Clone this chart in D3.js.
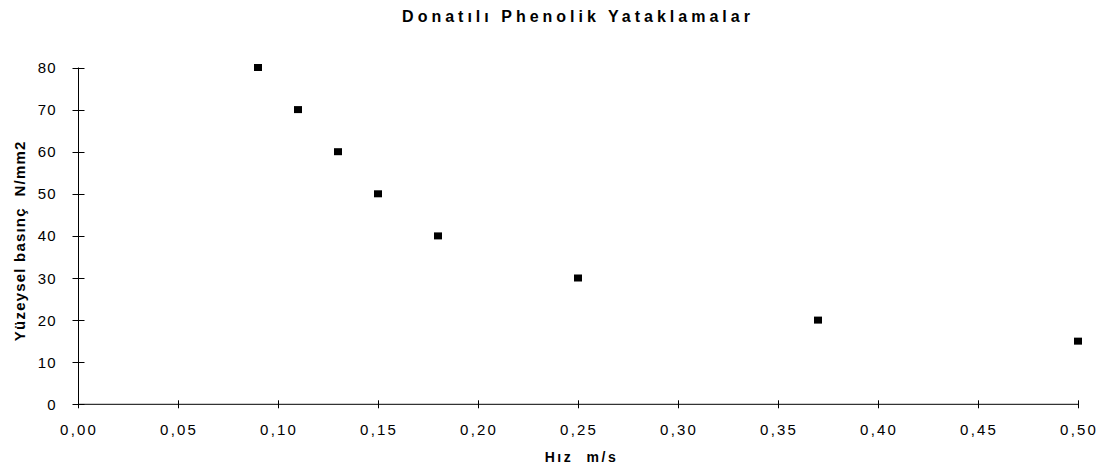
<!DOCTYPE html>
<html>
<head>
<meta charset="utf-8">
<script src="https://cdn.jsdelivr.net/npm/d3@7"></script>
<style>
  body { margin: 0; background: #fff; }
  text { font-family: "Liberation Sans", Arial, sans-serif; fill: #000; white-space: pre; }
</style>
</head>
<body>
<div id="chart"></div>
<script>
var speed = [0.09, 0.11, 0.13, 0.15, 0.18, 0.25, 0.37, 0.50];
var pressure = [80, 70, 60, 50, 40, 30, 20, 15];
var xTicks = [0, 0.05, 0.10, 0.15, 0.20, 0.25, 0.30, 0.35, 0.40, 0.45, 0.50];
var yTicks = [0, 10, 20, 30, 40, 50, 60, 70, 80];

var width = 1104, height = 471;
var svg = d3.select('#chart').append('svg')
  .attr('width', width)
  .attr('height', height);

var x = d3.scaleLinear().domain([0, 0.5]).range([78, 1078]);
var y = d3.scaleLinear().domain([0, 80]).range([404.3, 67.5]);

var fmt = function(d) { return d3.format('.2f')(d).replace('.', ','); };

// x axis
var gx = svg.append('g').attr('transform', 'translate(0,' + y(0) + ')');
gx.append('line').attr('x1', x(0)).attr('x2', x(0.5)).attr('stroke', '#000');
gx.selectAll('line.tick').data(xTicks).enter().append('line')
  .attr('x1', function(d) { return Math.round(x(d)) + 0.5; })
  .attr('x2', function(d) { return Math.round(x(d)) + 0.5; })
  .attr('y1', -4).attr('y2', 4).attr('stroke', '#000');
gx.selectAll('text').data(xTicks).enter().append('text')
  .attr('x', function(d) { return x(d) + 1.1; })
  .attr('y', 30.5)
  .attr('text-anchor', 'middle')
  .style('font-size', '15px')
  .style('letter-spacing', '2.2px')
  .text(fmt);

// y axis
var gy = svg.append('g').attr('transform', 'translate(' + (x(0) + 0.5) + ',0)');
gy.append('line').attr('y1', y(0)).attr('y2', y(80)).attr('stroke', '#000');
gy.selectAll('line.tick').data(yTicks).enter().append('line')
  .attr('y1', function(d) { return Math.round(y(d)) + 0.5; })
  .attr('y2', function(d) { return Math.round(y(d)) + 0.5; })
  .attr('x1', -6).attr('x2', 6).attr('stroke', '#000');
gy.selectAll('text').data(yTicks).enter().append('text')
  .attr('x', -22)
  .attr('y', function(d) { return y(d) + 5.5; })
  .attr('text-anchor', 'end')
  .style('font-size', '15px')
  .style('letter-spacing', '1px')
  .text(function(d) { return d; });

// points
svg.selectAll('rect.pt').data(speed).enter().append('rect')
  .attr('class', 'pt')
  .attr('x', function(d) { return x(d) - 4; })
  .attr('y', function(d, i) { return y(pressure[i]) - 3.5; })
  .attr('width', 8).attr('height', 7)
  .attr('fill', '#000');

// titles
svg.append('text')
  .attr('x', 578).attr('y', 22)
  .attr('text-anchor', 'middle')
  .style('font-size', '16px').style('font-weight', 'bold')
  .style('letter-spacing', '4px')
  .text('Donatılı Phenolik Yataklamalar');

svg.append('text')
  .attr('x', 581.5).attr('y', 462)
  .attr('text-anchor', 'middle')
  .style('font-size', '14px').style('font-weight', 'bold')
  .style('letter-spacing', '2.6px')
  .text('Hız  m/s');

svg.append('text')
  .attr('transform', 'translate(25,240.8) rotate(-90)')
  .attr('text-anchor', 'middle')
  .style('font-size', '15px').style('font-weight', 'bold')
  .style('letter-spacing', '1.2px')
  .text('Yüzeysel basınç  N/mm2');
</script>
</body>
</html>
